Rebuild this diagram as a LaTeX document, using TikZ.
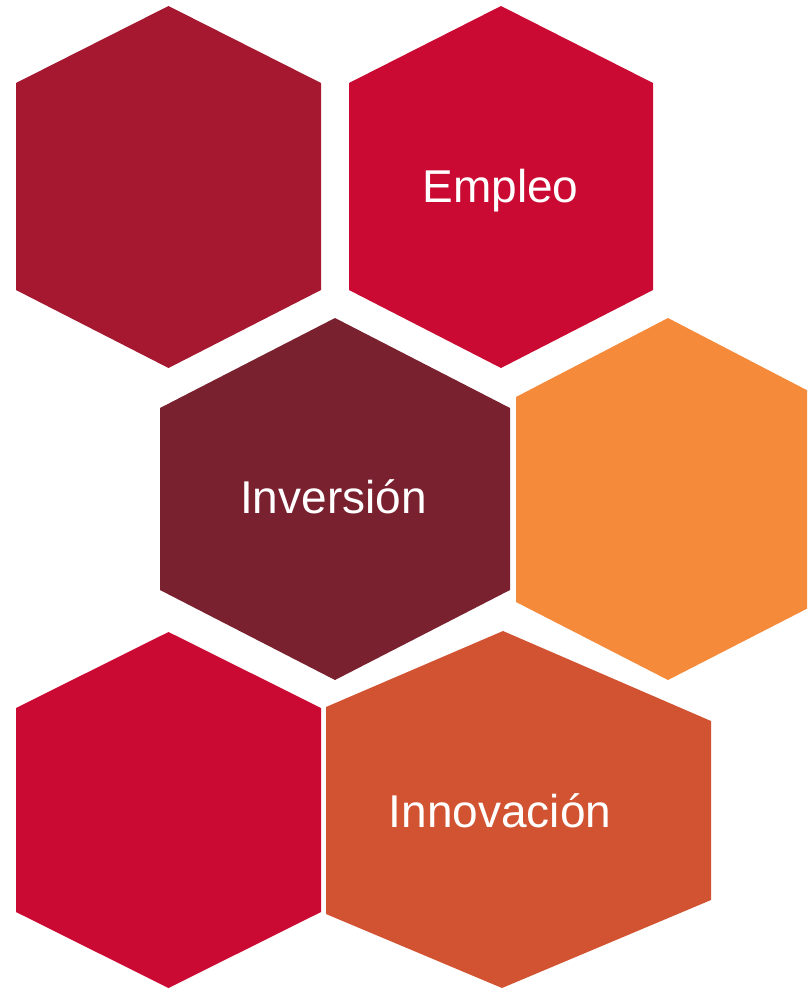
\documentclass[tikz,border=0pt]{standalone}
\usepackage{fontspec}
\setmainfont{Liberation Sans}
\definecolor{hexA}{RGB}{165,24,48}
\definecolor{hexB}{RGB}{202,10,50}
\definecolor{hexC}{RGB}{122,33,48}
\definecolor{hexD}{RGB}{246,138,59}
\definecolor{hexE}{RGB}{210,83,50}
\tikzset{
  lbl/.style={text=white, anchor=base, inner sep=0pt, font=\fontsize{46}{50}\selectfont}
}
\begin{document}
\begin{tikzpicture}[x=1pt,y=-1pt]
\useasboundingbox (0,0) rectangle (807,989);
\clip (0,0) rectangle (807,989);
% top row
\fill[hexA] (168.5,6) -- (321,83) -- (321,290) -- (168.5,368) -- (16,290) -- (16,83) -- cycle;
\fill[hexB] (501,6) -- (653,83) -- (653,290) -- (501,368) -- (349,290) -- (349,83) -- cycle;
% middle row
\fill[hexC] (335,318) -- (510,408) -- (510,590) -- (335,680) -- (160,590) -- (160,408) -- cycle;
\fill[hexD] (668,318) -- (820,397) -- (820,602) -- (668,680) -- (516,602) -- (516,397) -- cycle;
% bottom row
\fill[hexB] (168.5,632) -- (321,708) -- (321,912) -- (168.5,988) -- (16,912) -- (16,708) -- cycle;
\fill[hexE] (503,631) -- (711,721) -- (711,900) -- (502,988) -- (326,914) -- (326,707) -- cycle;
% labels
\node[lbl] (empleo) at (500.5,202) {Empleo};
\node[lbl] (inversion) at (333.5,513) {Inversión};
\node[lbl] (innovacion) at (500,827) {Innovación};
\end{tikzpicture}
\end{document}
